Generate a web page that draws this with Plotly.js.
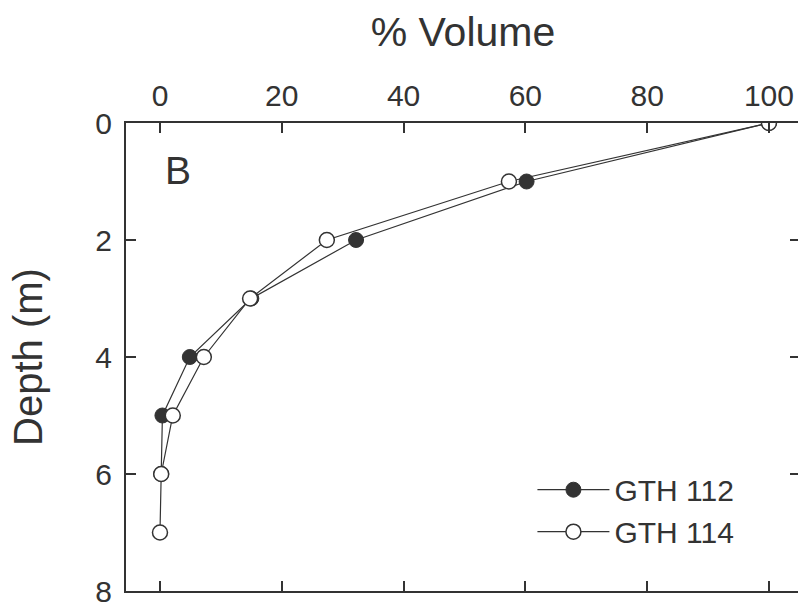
<!DOCTYPE html>
<html>
<head>
<meta charset="utf-8">
<script src="https://cdn.plot.ly/plotly-3.0.1.min.js"></script>
<style>
html,body{margin:0;padding:0;overflow:hidden;background:#fff;}
#chart{width:800px;height:606px;}
</style>
</head>
<body>
<div id="chart"></div>
<script>
// Depth (m) for each series
var depth112 = [0, 1, 2, 3, 4, 5, 6];
var depth114 = [0, 1, 2, 3, 4, 5, 6, 7];
// % Volume values
var vol112 = [100, 60.2, 32.2, 15, 4.9, 0.4, 0.2];
var vol114 = [100, 57.3, 27.4, 14.8, 7.2, 2.1, 0.2, 0];
var seriesNames = ["GTH 112", "GTH 114"];
var xTicks = [0, 20, 40, 60, 80, 100];
var yTicks = [0, 2, 4, 6, 8];

var ink = "#333333";
var font = "Liberation Sans, Arial, sans-serif";

var traces = [
  {
    x: vol112, y: depth112, name: seriesNames[0], type: "scatter", mode: "lines+markers",
    line: {color: ink, width: 1.2},
    marker: {symbol: "circle", size: 15, color: ink, line: {color: ink, width: 1}}
  },
  {
    x: vol114, y: depth114, name: seriesNames[1], type: "scatter", mode: "lines+markers",
    line: {color: ink, width: 1.2},
    marker: {symbol: "circle", size: 15, color: "#ffffff", line: {color: ink, width: 1.5}}
  }
];

var axisCommon = {
  showline: true, linecolor: ink, linewidth: 2,
  ticks: "inside", ticklen: 10, tickwidth: 2, tickcolor: ink,
  mirror: "ticks", showgrid: false, zeroline: false,
  ticklabeloverflow: "allow",
  tickfont: {family: font, size: 30, color: ink}
};

var layout = {
  width: 800, height: 606,
  margin: {l: 126, r: 0, t: 123, b: 15},
  paper_bgcolor: "#ffffff", plot_bgcolor: "#ffffff",
  showlegend: true,
  xaxis: Object.assign({}, axisCommon, {
    side: "top", range: [-5.58, 105.1], tickvals: xTicks,
    ticklabelstandoff: 3,
    title: {text: "% Volume", font: {family: font, size: 41, color: ink}, standoff: 20}
  }),
  yaxis: Object.assign({}, axisCommon, {
    range: [8, 0], tickvals: yTicks,
    ticklabelstandoff: 6,
    title: {text: "Depth (m)", font: {family: font, size: 40, color: ink}, standoff: 40}
  }),
  legend: {
    x: 0.603, y: 0.272, xanchor: "left", yanchor: "top",
    bgcolor: "rgba(0,0,0,0)", borderwidth: 0,
    font: {family: font, size: 30, color: ink},
    itemwidth: 72, itemsizing: "trace"
  },
  annotations: [{
    text: "B", xref: "paper", yref: "paper", x: 0.077, y: 0.898,
    xanchor: "center", yanchor: "middle", showarrow: false,
    font: {family: font, size: 39, color: ink}
  }]
};

Plotly.newPlot("chart", traces, layout, {displayModeBar: false, staticPlot: true});
</script>
</body>
</html>
